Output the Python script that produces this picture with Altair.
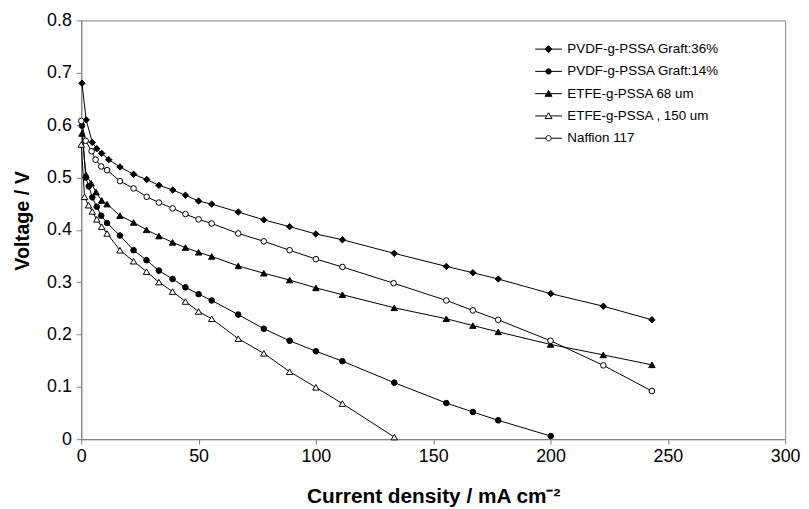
import altair as alt
import pandas as pd

series_names = ["PVDF-g-PSSA Graft:36%", "PVDF-g-PSSA Graft:14%",
                "ETFE-g-PSSA 68 um", "ETFE-g-PSSA , 150 um", "Naffion 117"]

# PVDF-g-PSSA Graft:36% (filled diamond)
x36 = [0.3, 2.1, 4.7, 6.6, 8.7, 11.7, 16.5, 22.3, 27.9, 33.1, 39.0, 44.4, 50.0, 55.6,
       66.9, 77.8, 88.8, 100.0, 111.3, 133.4, 155.6, 166.9, 177.7, 200.1, 222.5, 243.2]
y36 = [0.680, 0.610, 0.567, 0.555, 0.546, 0.534, 0.520, 0.506, 0.496, 0.485, 0.476, 0.466,
       0.455, 0.449, 0.434, 0.419, 0.406, 0.392, 0.381, 0.355, 0.330, 0.318, 0.306, 0.278,
       0.254, 0.228]

# PVDF-g-PSSA Graft:14% (filled circle)
x14 = [0.3, 1.9, 3.2, 4.7, 6.6, 8.5, 11.0, 16.5, 22.3, 27.8, 33.1, 38.9, 44.4, 50.0, 55.6,
       66.9, 77.8, 88.8, 100.0, 111.3, 133.4, 155.6, 166.9, 177.7, 200.1]
y14 = [0.599, 0.500, 0.483, 0.462, 0.444, 0.427, 0.413, 0.389, 0.361, 0.342, 0.322, 0.306,
       0.290, 0.277, 0.265, 0.238, 0.211, 0.188, 0.168, 0.149, 0.108, 0.069, 0.052, 0.036,
       0.006]

# ETFE-g-PSSA 68 um (filled triangle)
x68 = [0.3, 2.0, 4.2, 6.3, 8.7, 11.0, 16.5, 22.3, 27.8, 33.1, 38.9, 44.4, 50.0, 55.6,
       66.9, 77.8, 88.8, 100.0, 111.3, 133.4, 155.6, 166.9, 177.7, 200.0, 222.5, 243.2]
y68 = [0.584, 0.505, 0.489, 0.472, 0.456, 0.449, 0.427, 0.414, 0.400, 0.388, 0.376, 0.366,
       0.357, 0.349, 0.331, 0.317, 0.304, 0.289, 0.276, 0.251, 0.230, 0.217, 0.205, 0.181,
       0.161, 0.142]

# ETFE-g-PSSA , 150 um (open triangle)
x150 = [0.0, 1.4, 3.1, 4.7, 6.6, 8.7, 11.0, 16.5, 22.3, 27.8, 33.1, 38.9, 44.4, 50.0, 55.6,
        66.9, 77.8, 88.8, 100.0, 111.3, 133.4]
y150 = [0.563, 0.463, 0.447, 0.435, 0.420, 0.406, 0.393, 0.361, 0.340, 0.320, 0.300, 0.282,
        0.263, 0.244, 0.230, 0.192, 0.164, 0.129, 0.099, 0.068, 0.004]

# Naffion 117 (open circle)
xnaf = [0.0, 1.9, 4.4, 6.1, 8.5, 11.0, 16.5, 22.3, 27.9, 33.1, 38.9, 44.4, 50.0, 55.6,
        66.9, 77.8, 88.8, 100.0, 111.3, 133.1, 155.6, 166.9, 177.7, 200.0, 222.5, 243.2]
ynaf = [0.608, 0.570, 0.550, 0.534, 0.521, 0.514, 0.493, 0.479, 0.463, 0.452, 0.441, 0.430,
        0.420, 0.412, 0.393, 0.378, 0.361, 0.344, 0.329, 0.298, 0.265, 0.246, 0.228, 0.188,
        0.141, 0.092]

x_ticks = [0, 50, 100, 150, 200, 250, 300]
y_ticks = [0, 0.1, 0.2, 0.3, 0.4, 0.5, 0.6, 0.7, 0.8]

series_x = [x36, x14, x68, x150, xnaf]
series_y = [y36, y14, y68, y150, ynaf]
marker_shapes = ["diamond", "circle", "triangle-up", "triangle-up", "circle"]
marker_fills = ["black", "black", "black", "white", "white"]
marker_sizes = [42, 32, 42, 42, 32]

legend_paths = [
    "M-1,0H-0.26M0.26,0H1M0,-0.26L0.26,0L0,0.26L-0.26,0Z",
    "M-1,0H-0.2M0.2,0H1M-0.2,0A0.2,0.2,0,1,0,0.2,0A0.2,0.2,0,1,0,-0.2,0Z",
    "M-1,0H-0.14M0.14,0H1M0,-0.24L0.26,0.2L-0.26,0.2Z",
    "M-1,0H-0.14M0.14,0H1M0,-0.24L0.26,0.2L-0.26,0.2Z",
    "M-1,0H-0.2M0.2,0H1M-0.2,0A0.2,0.2,0,1,0,0.2,0A0.2,0.2,0,1,0,-0.2,0Z",
]

FONT = "Liberation Sans"

xscale = alt.Scale(domain=[0, 300], nice=False, zero=False)
yscale = alt.Scale(domain=[0, 0.8], nice=False)

xaxis = alt.Axis(values=x_ticks, title="Current density / mA cm⁻²", grid=False,
                 labelFont=FONT, labelFontSize=18, labelColor="black", labelPadding=4,
                 tickSize=5, tickColor="#808080", domainColor="#808080",
                 titleFont=FONT, titleFontSize=21, titleFontWeight="bold", titleColor="black",
                 titleY=58, titleBaseline="middle", labelFlush=False)
yaxis = alt.Axis(values=y_ticks, title="Voltage / V", grid=False,
                 labelFont=FONT, labelFontSize=18, labelColor="black", labelPadding=5,
                 labelExpr="datum.value == 0 ? '0' : format(datum.value, '.1f')",
                 tickSize=5, tickColor="#808080", domainColor="#808080",
                 titleFont=FONT, titleFontSize=20, titleFontWeight="bold", titleColor="black",
                 titleX=-59, titleY=202, titleBaseline="middle", labelFlush=False)

enc_x = alt.X("x:Q", scale=xscale, axis=xaxis)
enc_y = alt.Y("y:Q", scale=yscale, axis=yaxis)

layers = []
for i in range(5):
    df = pd.DataFrame({"x": series_x[i], "y": series_y[i]})
    layers.append(alt.Chart(df).mark_line(color="black", strokeWidth=1).encode(x=enc_x, y=enc_y))
for i in range(5):
    df = pd.DataFrame({"x": series_x[i], "y": series_y[i]})
    layers.append(alt.Chart(df).mark_point(shape=marker_shapes[i], filled=True,
                                           fill=marker_fills[i], stroke="black",
                                           strokeWidth=1, opacity=1,
                                           size=marker_sizes[i]).encode(x=enc_x, y=enc_y))

legend = alt.Legend(title=None, orient="none", legendX=458, legendY=15, padding=0,
                    symbolSize=729, symbolStrokeWidth=1,
                    symbolOpacity=1, labelFont=FONT, labelFontSize=13.5, labelColor="black",
                    labelOffset=5, rowPadding=1.5, labelLimit=300)
legend_df = pd.DataFrame({"series": series_names})
legend_layer = alt.Chart(legend_df).mark_point(filled=True, strokeWidth=1,
                                               opacity=1).encode(
    shape=alt.Shape("series:N", scale=alt.Scale(domain=series_names, range=legend_paths),
                    legend=legend, sort=series_names),
    fill=alt.Fill("series:N", scale=alt.Scale(domain=series_names, range=marker_fills),
                  legend=legend, sort=series_names),
    stroke=alt.Stroke("series:N", scale=alt.Scale(domain=series_names, range=["black"] * 5),
                      legend=legend, sort=series_names),
).transform_filter("false")
layers.append(legend_layer)

chart = alt.layer(*layers).properties(
    width=711, height=423,
    autosize=alt.AutoSizeParams(type="none"),
    padding={"left": 74, "top": 10, "right": 16, "bottom": 68},
    background="white",
).configure_view(stroke="#808080", strokeWidth=1)

chart.save("out.html", embed_options={"renderer": "svg", "actions": False})
